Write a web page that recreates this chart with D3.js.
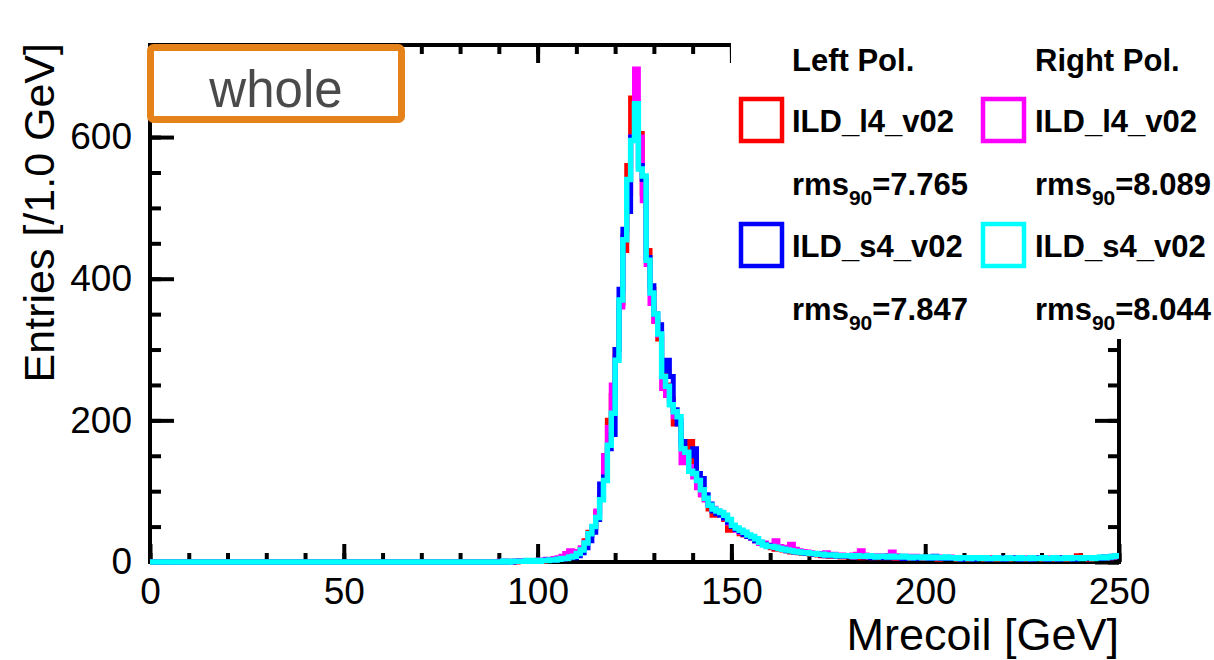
<!DOCTYPE html>
<html>
<head>
<meta charset="utf-8">
<script src="https://cdn.jsdelivr.net/npm/d3@7"></script>
<style>
  body { margin: 0; background: #fff; }
  text { font-family: "Liberation Sans", Arial, Helvetica, sans-serif; }
</style>
</head>
<body>
<div id="chart"></div>
<script>
// Mrecoil histograms, 1 GeV bins from 0 to 250
const binLow = d3.range(0, 250);

const l4Left = [
  0,0,0,0,0,0,0,0,0,0, 0,0,0,0,0,0,0,0,0,0, 0,0,0,0,0,0,0,0,0,0,
  0,0,0,0,0,0,0,0,0,0, 0,0,0,0,0,0,0,0,0,0, 0,0,0,0,0,0,0,0,0,0,
  0,0,0,0,0,0,0,0,0,0, 0,0,0,0,0,0,0,0,0,0, 0,0,0,0,0,0,0,0,0,0,
  0,0,1,1,0,1,1,1,2,1,
  2,1,2,3,3,4,4,6,7,9,
  12,18,30,42,48,70,95,150,200,235,
  300,365,440,560,655,640,605,520,440,385,
  340,315,270,250,230,195,200,165,150,170,
  125,110,95,88,75,66,70,68,60,45,
  48,46,40,38,36,34,30,27,25,22,
  20,18,20,17,16,14,15,13,12,12,
  11,12,10,9,10,8,9,8,7,8,
  7,8,7,6,7,7,6,8,6,7,
  6,7,5,6,6,7,5,6,5,6,
  5,6,6,4,5,6,5,5,4,6,
  5,4,6,5,5,4,5,6,4,5,
  5,4,5,5,6,4,5,4,5,5,
  4,5,5,4,6,5,4,5,5,9,
  6,5,4,6,5,5,6,6,7,8
];

const s4Left = [
  0,0,0,0,0,0,0,0,0,0, 0,0,0,0,0,0,0,0,0,0, 0,0,0,0,0,0,0,0,0,0,
  0,0,0,0,0,0,0,0,0,0, 0,0,0,0,0,0,0,0,0,0, 0,0,0,0,0,0,0,0,0,0,
  0,0,0,0,0,0,0,0,0,0, 0,0,0,0,0,0,0,0,0,0, 0,0,0,0,0,0,0,0,0,0,
  0,1,0,0,1,1,1,2,1,2,
  2,2,3,2,3,4,4,5,6,6,
  9,13,20,30,42,60,110,120,160,180,
  300,385,470,495,600,625,560,540,430,390,
  350,335,270,285,262,215,195,170,155,150,
  160,125,118,95,82,72,68,66,62,56,
  50,46,43,39,36,34,30,28,25,23,
  22,20,19,18,16,16,14,14,13,12,
  12,11,11,10,9,10,9,8,8,9,
  8,7,8,8,7,7,6,7,7,6,
  7,6,6,7,5,6,6,5,6,6,
  6,5,8,6,5,5,6,5,5,4,
  5,5,4,6,5,5,4,5,5,6,
  4,5,5,6,4,5,5,4,6,5,
  5,4,5,5,4,6,5,5,4,5,
  5,6,5,5,6,5,7,6,7,8
];

const l4Right = [
  0,0,0,0,0,0,0,0,0,0, 0,0,0,0,0,0,0,0,0,0, 0,0,0,0,0,0,0,0,0,0,
  0,0,0,0,0,0,0,0,0,0, 0,0,0,0,0,0,0,0,0,0, 0,0,0,0,0,0,0,0,0,0,
  0,0,0,0,0,0,0,0,0,0, 0,0,0,0,0,0,0,0,0,0, 0,0,0,0,0,0,0,0,0,0,
  1,0,1,1,1,2,1,2,2,2,
  3,3,4,4,5,6,8,12,16,14,
  15,20,28,38,50,72,92,150,190,250,
  290,360,460,520,600,696,600,510,420,365,
  340,320,245,235,225,205,200,140,150,135,
  120,105,95,88,80,76,72,68,62,55,
  50,45,42,40,36,34,30,26,27,24,
  23,30,22,20,21,25,18,16,15,14,
  13,12,12,11,13,10,11,10,10,9,
  9,10,11,16,10,9,8,9,8,9,
  8,14,9,8,7,8,7,8,7,7,
  6,7,6,7,5,6,7,6,6,5,
  6,5,6,5,6,6,5,6,5,5,
  6,5,5,6,5,6,5,6,5,6,
  5,6,6,5,6,5,6,6,5,6,
  6,5,6,6,5,6,7,6,8,9
];

const s4Right = [
  0,0,0,0,0,0,0,0,0,0, 0,0,0,0,0,0,0,0,0,0, 0,0,0,0,0,0,0,0,0,0,
  0,0,0,0,0,0,0,0,0,0, 0,0,0,0,0,0,0,0,0,0, 0,0,0,0,0,0,0,0,0,0,
  0,0,0,0,0,0,0,0,0,0, 0,0,0,0,0,0,0,0,0,0, 0,0,0,0,0,0,0,0,0,0,
  0,1,0,1,1,1,1,2,1,2,
  1,2,2,3,3,4,5,5,7,8,
  12,17,27,40,50,63,88,115,165,210,
  285,370,455,540,595,647,555,545,426,380,
  350,322,262,248,222,212,205,160,155,128,
  125,115,102,90,80,75,72,70,66,60,
  52,48,45,42,38,36,33,28,24,22,
  22,21,19,18,17,16,15,14,13,13,
  12,12,11,11,10,10,10,9,9,9,
  9,8,9,8,8,9,8,7,8,8,
  7,8,7,7,8,7,6,7,7,6,
  7,6,7,6,6,7,6,6,5,6,
  6,5,6,6,5,6,5,5,6,5,
  5,6,5,5,6,5,5,6,5,5,
  6,5,5,6,5,5,6,5,6,6,
  5,6,6,5,6,7,6,7,8,9
];

const seriesNames = ["ILD_l4_v02", "ILD_s4_v02", "ILD_l4_v02", "ILD_s4_v02"];
const seriesColors = ["#ff0000", "#0000ff", "#ff00ff", "#00ffff"];
const rms90 = ["7.765", "7.847", "8.089", "8.044"];
const xTicks = [0, 50, 100, 150, 200, 250];
const yTicks = [0, 200, 400, 600];

const width = 1214, height = 660;
const svg = d3.select("#chart").append("svg")
  .attr("width", width).attr("height", height);

const x = d3.scaleLinear().domain([0, 250]).range([150, 1119]);
const y = d3.scaleLinear().domain([0, 730]).range([562, 45]);

const tickFont = 37;

// frame + ticks (ticks point inwards, ROOT style)
function clean(g) { g.select(".domain").remove(); }

svg.append("g").attr("transform", `translate(0,${y(0)})`)
  .call(d3.axisBottom(x).tickValues(d3.range(0, 251, 10)).tickSize(-9).tickFormat(""))
  .call(clean);
svg.append("g").attr("transform", `translate(0,${y(0)})`)
  .call(d3.axisBottom(x).tickValues(xTicks).tickSize(-18).tickPadding(16).tickFormat(d3.format("d")))
  .call(clean);
svg.append("g").attr("transform", `translate(0,${y(730)})`)
  .call(d3.axisTop(x).tickValues(d3.range(0, 251, 10)).tickSize(-9).tickFormat(""))
  .call(clean);
svg.append("g").attr("transform", `translate(0,${y(730)})`)
  .call(d3.axisTop(x).tickValues(xTicks).tickSize(-18).tickFormat(""))
  .call(clean);

svg.append("g").attr("transform", `translate(${x(0)},0)`)
  .call(d3.axisLeft(y).tickValues(d3.range(0, 701, 50)).tickSize(-11).tickFormat(""))
  .call(clean);
svg.append("g").attr("transform", `translate(${x(0)},0)`)
  .call(d3.axisLeft(y).tickValues(yTicks).tickSize(-24).tickPadding(18).tickFormat(d3.format("d")))
  .call(clean);
svg.append("g").attr("transform", `translate(${x(250)},0)`)
  .call(d3.axisRight(y).tickValues(d3.range(0, 701, 50)).tickSize(-11).tickFormat(""))
  .call(clean);
svg.append("g").attr("transform", `translate(${x(250)},0)`)
  .call(d3.axisRight(y).tickValues(yTicks).tickSize(-24).tickFormat(""))
  .call(clean);

svg.selectAll(".tick line").attr("stroke", "#000").attr("stroke-width", 4);
svg.selectAll(".tick text").attr("font-size", tickFont).attr("fill", "#000")
  .attr("font-family", "'Liberation Sans', Arial, sans-serif");

svg.append("rect")
  .attr("x", x(0)).attr("y", y(730))
  .attr("width", x(250) - x(0)).attr("height", y(0) - y(730))
  .attr("fill", "none").attr("stroke", "#000").attr("stroke-width", 4);

// histograms
svg.append("clipPath").attr("id", "frame").append("rect")
  .attr("x", x(0)).attr("y", y(730) - 2)
  .attr("width", x(250) - x(0) + 2).attr("height", y(0) - y(730) + 6);

const step = d3.line()
  .x(d => x(d[0])).y(d => y(d[1]))
  .curve(d3.curveStepAfter);

const drawOrder = [
  { vals: l4Left, color: seriesColors[0] },
  { vals: l4Right, color: seriesColors[2] },
  { vals: s4Left, color: seriesColors[1] },
  { vals: s4Right, color: seriesColors[3] }
];

drawOrder.forEach(s => {
  const pts = binLow.map((b, i) => [b, s.vals[i]]);
  pts.push([250, s.vals[s.vals.length - 1]]);
  svg.append("path")
    .attr("clip-path", "url(#frame)")
    .attr("d", step(pts))
    .attr("fill", "none")
    .attr("stroke", s.color)
    .attr("stroke-width", s.color === "#00ffff" ? 5.5 : 5)
    .attr("stroke-linejoin", "miter");
});

// axis titles
svg.append("text")
  .attr("x", x(250)).attr("y", 650)
  .attr("text-anchor", "end")
  .attr("font-size", 45)
  .text("Mrecoil [GeV]");

svg.append("text")
  .attr("transform", `translate(54,${y(730) - 2}) rotate(-90)`)
  .attr("text-anchor", "end")
  .attr("font-size", 43)
  .text("Entries [/1.0 GeV]");

// legend (white pad covers the frame corner)
svg.append("rect")
  .attr("x", 731).attr("y", 0).attr("width", width - 731).attr("height", 339)
  .attr("fill", "#fff");

const leg = svg.append("g").attr("font-weight", "bold").attr("font-size", 31);
const colX = [792, 1035];
const boxX = [741, 983];

leg.selectAll(".hdr").data(["Left Pol.", "Right Pol."]).join("text")
  .attr("x", (d, i) => colX[i]).attr("y", 71).text(d => d);

seriesNames.forEach((name, i) => {
  const c = i < 2 ? 0 : 1;
  const r = i % 2;
  const base = 132 + r * 125;
  leg.append("rect")
    .attr("x", boxX[c]).attr("y", base - 33)
    .attr("width", 41).attr("height", 42)
    .attr("fill", "none").attr("stroke", seriesColors[i]).attr("stroke-width", 4.5);
  leg.append("text").attr("x", colX[c]).attr("y", base).text(name);
  const t = leg.append("text").attr("x", colX[c]).attr("y", base + 63);
  t.append("tspan").text("rms");
  t.append("tspan").attr("font-size", 21).attr("dy", 10).text("90");
  t.append("tspan").attr("dy", -10).text("=" + rms90[i]);
});

// "whole" tag
svg.append("rect")
  .attr("x", 150.5).attr("y", 47.5).attr("width", 251).attr("height", 72)
  .attr("rx", 3).attr("fill", "#fff")
  .attr("stroke", "#e6821a").attr("stroke-width", 7);
svg.append("text")
  .attr("x", 276).attr("y", 107)
  .attr("text-anchor", "middle")
  .attr("font-family", "Lato, 'Open Sans', sans-serif")
  .attr("font-weight", 300)
  .attr("font-size", 51)
  .attr("fill", "#4a4a4a")
  .text("whole");
</script>
</body>
</html>
